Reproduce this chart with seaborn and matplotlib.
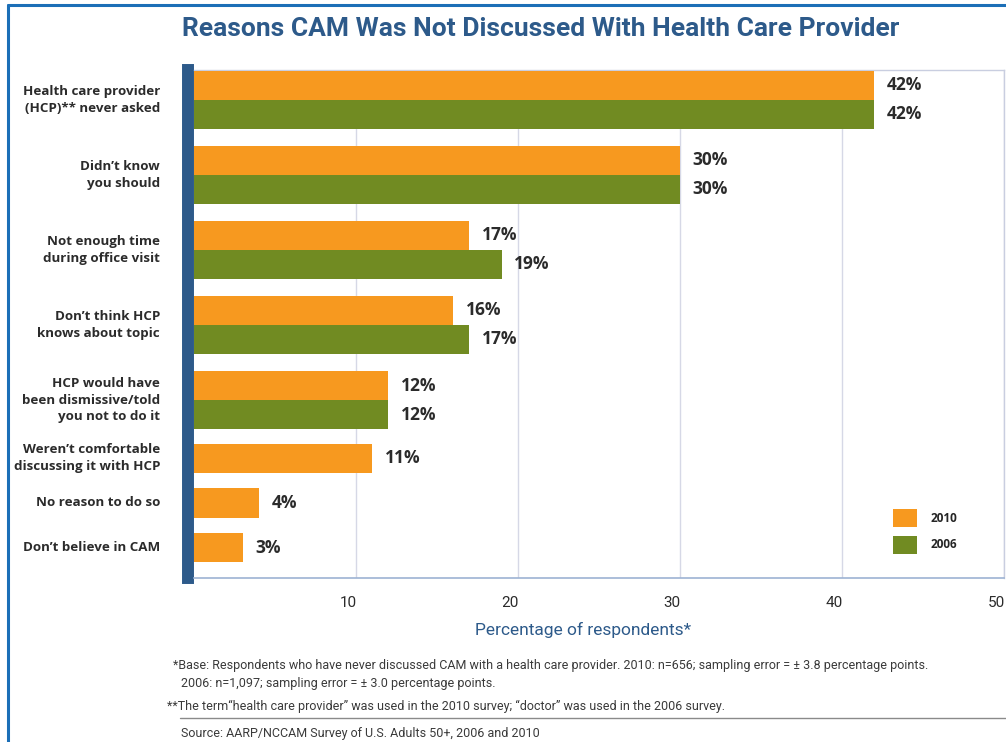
import matplotlib
matplotlib.use("Agg")
import matplotlib.pyplot as plt
import matplotlib.transforms as mtransforms
from matplotlib import font_manager
from matplotlib.patches import Patch
from matplotlib.lines import Line2D
import pandas as pd
import seaborn as sns

# ---------------- Data ---------------- #
reasons = [
    "Health care provider\n(HCP)** never asked",
    "Didn\u2019t know\nyou should",
    "Not enough time\nduring office visit",
    "Don\u2019t think HCP\nknows about topic",
    "HCP would have\nbeen dismissive/told\nyou not to do it",
    "Weren\u2019t comfortable\ndiscussing it with HCP",
    "No reason to do so",
    "Don\u2019t believe in CAM",
]
pct_2010 = [42, 30, 17, 16, 12, 11, 4, 3]
pct_2006 = [42, 30, 19, 17, 12, None, None, None]
years = ["2010", "2006"]
x_ticks = [10, 20, 30, 40, 50]

# ---------------- Style ---------------- #
ORANGE = "#F7991F"
GREEN = "#718B22"
NAVY = "#2D5A8A"
TEXT = "#2B2B2B"

sns.set_style("white")
installed = {f.name for f in font_manager.fontManager.ttflist}
NARROW = "Liberation Sans Narrow" if "Liberation Sans Narrow" in installed else "Roboto"
plt.rcParams["font.family"] = ["Open Sans", "DejaVu Sans"]

# ---------------- Layout positions (one unit = one bar) ---------------- #
pair_step = 75 / 29
rows = []
label_pos = []
for i, reason in enumerate(reasons):
    if pct_2006[i] is not None:
        base = i * pair_step
        rows.append({"reason": reason, "year": "2010", "value": pct_2010[i], "pos": base})
        rows.append({"reason": reason, "year": "2006", "value": pct_2006[i], "pos": base + 1})
        label_pos.append(base + 0.5)
    else:
        k = i - 5
        p = 4 * pair_step + 2.5 + k * 1.55
        rows.append({"reason": reason, "year": "2010", "value": pct_2010[i], "pos": p})
        label_pos.append(p)
df = pd.DataFrame(rows)

W, H = 1006, 742
fig = plt.figure(figsize=(W / 100, H / 100), dpi=100)
ax = fig.add_axes([194 / W, 1 - 578 / H, (1004 - 194) / W, (578 - 70) / H])

sns.barplot(
    data=df, x="value", y="pos", hue="year", hue_order=years,
    palette={"2010": ORANGE, "2006": GREEN}, orient="y", native_scale=True,
    dodge=False, width=1.0, saturation=1, linewidth=0, errorbar=None,
    legend=False, ax=ax, zorder=3,
)

ax.set_xlim(0, 50)
ax.set_ylim(16.98, -0.53)

# value labels
for _, r in df.iterrows():
    ax.annotate(f"{int(r['value'])}%", (r["value"], r["pos"]), xytext=(9, 0),
                textcoords="offset points", va="center", ha="left",
                fontsize=12.5, fontweight="bold", color=TEXT)

# grid
ax.set_xticks(x_ticks)
ax.grid(axis="x", color="#D6D8E6", lw=1, zorder=0)
ax.grid(axis="y", visible=False)

# category names drawn as text so they keep the bold weight
ax.set_yticks([])
for pos, reason in zip(label_pos, reasons):
    ax.text(-34 / 810, pos, reason, transform=ax.get_yaxis_transform(),
            ha="right", va="center", fontsize=9.6, fontweight="bold",
            color=TEXT, linespacing=1.38)
ax.tick_params(axis="x", length=0, pad=13, labelsize=11, labelcolor=TEXT)
offset = mtransforms.ScaledTranslation(-8 / 100, 0, fig.dpi_scale_trans)
for lbl in ax.get_xticklabels():
    lbl.set_fontfamily(NARROW)
    lbl.set_transform(lbl.get_transform() + offset)

ax.set_xlabel("")
ax.set_ylabel("")

# spines
for side in ["top", "right"]:
    ax.spines[side].set_color("#C9CEE0")
    ax.spines[side].set_linewidth(1)
ax.spines["bottom"].set_color("#9DB3D3")
ax.spines["bottom"].set_linewidth(1.2)
ax.spines["left"].set_color(NAVY)
ax.spines["left"].set_linewidth(8.6)
ax.spines["left"].set_position(("outward", 4.3))

# legend
handles = [Patch(facecolor=ORANGE, edgecolor="none"), Patch(facecolor=GREEN, edgecolor="none")]
fig.legend(handles, years, loc="upper left", bbox_to_anchor=(893 / W, 1 - 509 / H),
           bbox_transform=fig.transFigure, frameon=False,
           handlelength=2.0, handleheight=2.0, labelspacing=0.7, handletextpad=1.2,
           borderpad=0, borderaxespad=0, prop={"weight": "bold", "size": 8.5})

# title & axis label
fig.text(541 / W, 1 - 29 / H, "Reasons CAM Was Not Discussed With Health Care Provider",
         ha="center", va="center", fontsize=19, fontweight="bold", color=NAVY,
         family=[NARROW, "DejaVu Sans"])
fig.text(583 / W, 1 - 630 / H, "Percentage of respondents*", ha="center", va="center",
         fontsize=12.5, color=NAVY, family=[NARROW, "DejaVu Sans"])

# footnotes
foot = dict(fontsize=9, color="#3A3A3A", va="center", ha="left", family=[NARROW, "DejaVu Sans"])
fig.text(173 / W, 1 - 665 / H,
         "*Base: Respondents who have never discussed CAM with a health care provider. "
         "2010: n=656; sampling error = \u00b1 3.8 percentage points.", **foot)
fig.text(181 / W, 1 - 684 / H, "2006: n=1,097; sampling error = \u00b1 3.0 percentage points.", **foot)
fig.text(167 / W, 1 - 706 / H,
         "**The term\u201chealth care provider\u201d was used in the 2010 survey; "
         "\u201cdoctor\u201d was used in the 2006 survey.", **foot)
fig.text(181 / W, 1 - 734 / H, "Source: AARP/NCCAM Survey of U.S. Adults 50+, 2006 and 2010", **foot)

# separator and frame lines
fig.add_artist(Line2D([180 / W, 1], [1 - 718 / H, 1 - 718 / H], color="#8A8A8A", lw=1,
                      transform=fig.transFigure))
fig.add_artist(Line2D([8 / W, 8 / W], [0, 1 - 5 / H], color="#1C6FB7", lw=2.2,
                      transform=fig.transFigure))
fig.add_artist(Line2D([8 / W, 1], [1 - 5 / H, 1 - 5 / H], color="#1C6FB7", lw=2.2,
                      transform=fig.transFigure))

fig.savefig("out.png", dpi=100)
